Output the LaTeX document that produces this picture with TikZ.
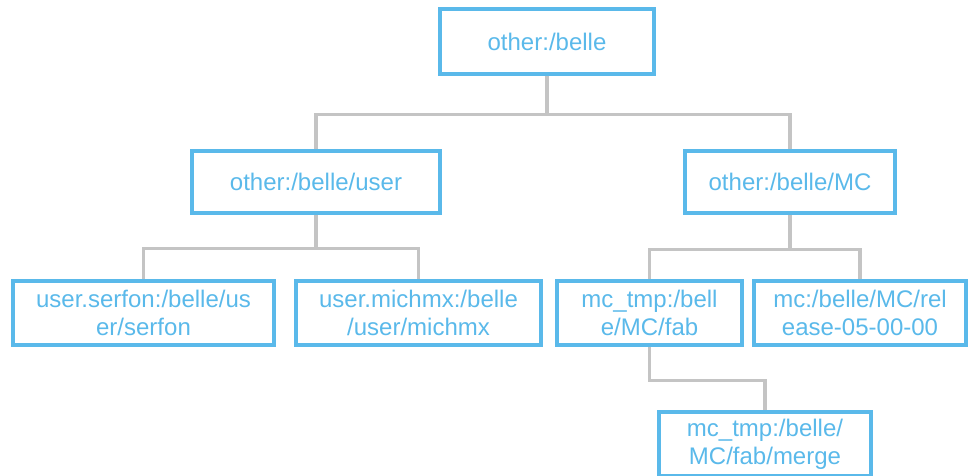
\documentclass[tikz,border=0pt]{standalone}
\usepackage{fontspec}
\setmainfont{Liberation Sans}
\definecolor{boxblue}{HTML}{5AB9EA}
\definecolor{linkgray}{HTML}{C4C4C4}
\begin{document}
\begin{tikzpicture}[x=1pt,y=-1pt,
  dirbox/.style={draw=boxblue, line width=3.5pt, text=boxblue, align=center,
    inner sep=0pt, font=\fontsize{24}{28}\selectfont},
  link/.style={draw=linkgray, line width=3.2pt}]
\useasboundingbox (0,0) rectangle (969,476);

% directory boxes
\node[dirbox, minimum width=214pt, minimum height=65pt] (root) at (547,41.5) {other:/belle};
\node[dirbox, minimum width=248pt, minimum height=62pt] (user) at (316,182) {other:/belle/user};
\node[dirbox, minimum width=210pt, minimum height=62pt] (mc) at (790,182) {other:/belle/MC};
\node[dirbox, minimum width=261pt, minimum height=64pt] (serfon) at (143.5,313) {user.serfon:/belle/us\\er/serfon};
\node[dirbox, minimum width=245pt, minimum height=64pt] (michmx) at (418.5,313) {user.michmx:/belle\\/user/michmx};
\node[dirbox, minimum width=185pt, minimum height=64pt] (fab) at (649.5,313) {mc\_tmp:/bell\\e/MC/fab};
\node[dirbox, minimum width=212pt, minimum height=64pt] (rel) at (860,313) {mc:/belle/MC/rel\\ease-05-00-00};
\node[dirbox, minimum width=212pt, minimum height=64pt] (merge) at (765,444) {mc\_tmp:/belle/\\MC/fab/merge};

% tree connectors
\draw[link] (root.south) -- ++(0,38.5) coordinate (j0) -| (user.north);
\draw[link] (j0) -| (mc.north);
\draw[link] (user.south) -- ++(0,34) coordinate (j1) -| (serfon.north);
\draw[link] (j1) -| (michmx.north);
\draw[link] (mc.south) -- ++(0,35) coordinate (j2) -| (fab.north);
\draw[link] (j2) -| (rel.north);
\draw[link] (fab.south) -- ++(0,34) -| (merge.north);
\end{tikzpicture}
\end{document}
